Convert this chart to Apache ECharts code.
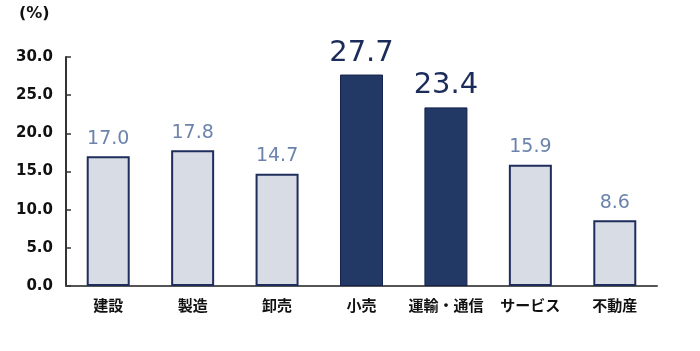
<!DOCTYPE html>
<html>
<head>
<meta charset="utf-8">
<script src="https://cdn.jsdelivr.net/npm/echarts@6/dist/echarts.min.js"></script>
<style>
  html, body { margin: 0; padding: 0; background: #fff; }
  #main { width: 700px; height: 351px; }
</style>
</head>
<body>
<div id="main"></div>
<script>
// 業種ごとの値 (%)
const categories = ['建設', '製造', '卸売', '小売', '運輸・通信', 'サービス', '不動産'];
const values = [17.0, 17.8, 14.7, 27.7, 23.4, 15.9, 8.6];
// 強調する業種
const highlighted = ['小売', '運輸・通信'];

const chart = echarts.init(document.getElementById('main'));

const lightStyle = { color: '#d7dce5', borderColor: '#1f2d5c', borderWidth: 2 };
const darkStyle = { color: '#223865', borderColor: '#14224d', borderWidth: 1 };

const barData = values.map((v, i) => {
  const hi = highlighted.includes(categories[i]);
  return {
    value: v,
    itemStyle: hi ? darkStyle : lightStyle,
    label: hi
      ? { fontSize: 29, color: '#1c2c5a', distance: 7 }
      : { fontSize: 19, color: '#6c84ad', distance: 8 }
  };
});

chart.setOption({
  animation: false,
  grid: { left: 66, right: 43, top: 57, bottom: 65 },
  graphic: [{
    type: 'text', left: 19, top: 6,
    style: { text: '(%)', font: 'bold 16px "DejaVu Sans"', fill: '#111' }
  }],
  xAxis: {
    type: 'category',
    data: categories,
    axisTick: { show: false },
    axisLine: { lineStyle: { color: '#555', width: 2 } },
    axisLabel: {
      interval: 0,
      margin: 12, color: '#111', fontSize: 15, fontWeight: 'bold',
      fontFamily: '"Noto Sans CJK JP"'
    }
  },
  yAxis: {
    type: 'value',
    min: 0, max: 30, interval: 5,
    splitLine: { show: false },
    axisLine: { show: true, lineStyle: { color: '#333', width: 2 } },
    axisTick: { show: true, inside: true, length: 5, lineStyle: { color: '#333', width: 1.5 } },
    axisLabel: {
      margin: 13, color: '#111', fontSize: 15, fontWeight: 'bold',
      fontFamily: '"DejaVu Sans"',
      formatter: v => v.toFixed(1)
    }
  },
  series: [{
    type: 'bar',
    data: barData,
    barWidth: 43,
    label: {
      show: true, position: 'top',
      fontFamily: '"DejaVu Sans"',
      formatter: p => p.value.toFixed(1)
    }
  }]
});
</script>
</body>
</html>
